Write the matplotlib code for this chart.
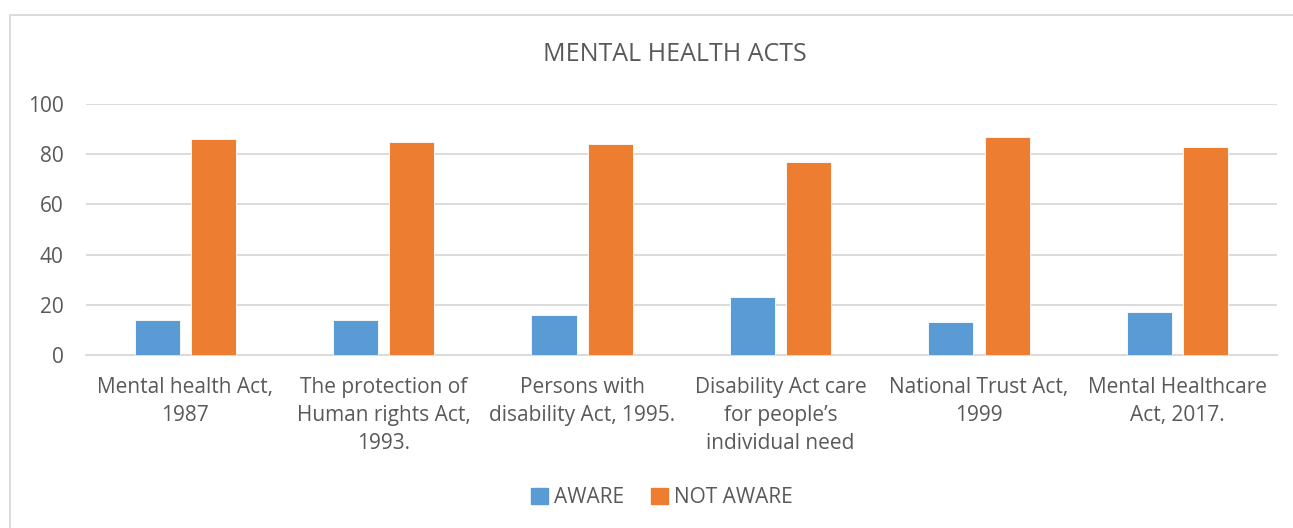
import numpy as np
import matplotlib.pyplot as plt
from matplotlib.patches import Rectangle, Patch

plt.rcParams['font.family'] = ['Open Sans', 'DejaVu Sans']

acts = ["Mental health Act,\n1987",
        "The protection of\nHuman rights Act,\n1993.",
        "Persons with\ndisability Act, 1995.",
        "Disability Act care\nfor people\u2019s\nindividual need",
        "National Trust Act,\n1999",
        "Mental Healthcare\nAct, 2017."]
aware = [14, 14, 16, 23, 13, 17]
not_aware = [86, 85, 84, 77, 87, 83]

blue = "#5b9bd5"
orange = "#ed7d31"
grey_text = "#595959"
grid_col = "#d9d9d9"

fig = plt.figure(figsize=(12.93, 5.28), dpi=100)
ax = fig.add_axes([0.0665, 0.3277, 0.921, 0.4754])

x = np.arange(len(acts))
w = 0.227
off = 0.142
ax.bar(x - off, aware, w, color=blue, edgecolor="white", linewidth=0.6, label="AWARE", zorder=3)
ax.bar(x + off, not_aware, w, color=orange, edgecolor="white", linewidth=0.6, label="NOT AWARE", zorder=3)

ax.set_xlim(-0.5, len(acts) - 0.5)
ax.set_ylim(0, 100)
ax.set_yticks(range(0, 101, 20))
ax.yaxis.grid(True, color=grid_col, linewidth=1.3, zorder=0)
ax.set_axisbelow(True)
for s in ["top", "right", "left"]:
    ax.spines[s].set_visible(False)
ax.spines["bottom"].set_color(grid_col)
ax.spines["bottom"].set_linewidth(1.3)
ax.tick_params(axis="both", length=0, labelsize=15, colors=grey_text)
ax.tick_params(axis="y", pad=16)
ax.tick_params(axis="x", pad=15.5)
ax.set_xticks(x)
ax.set_xticklabels(acts, linespacing=1.45)

fig.text(0.522, 0.896, "MENTAL HEALTH ACTS", ha="center", va="center",
         fontsize=18, color=grey_text)

# square legend keys
handles = [Patch(color=blue), Patch(color=orange)]
fig.legend(handles, ["AWARE", "NOT AWARE"], loc="center", bbox_to_anchor=(0.512, 0.058),
           ncol=2, frameon=False, fontsize=15, labelcolor=grey_text,
           handlelength=0.8, handleheight=0.8, handletextpad=0.3, columnspacing=1.3)

# outer chart frame
fig.patches.append(Rectangle((10 / 1293, -0.05), 1.1, 1 - 15 / 528 + 0.05,
                             transform=fig.transFigure, fill=False,
                             edgecolor=grid_col, linewidth=1.3))

fig.savefig("out.png", dpi=100)
